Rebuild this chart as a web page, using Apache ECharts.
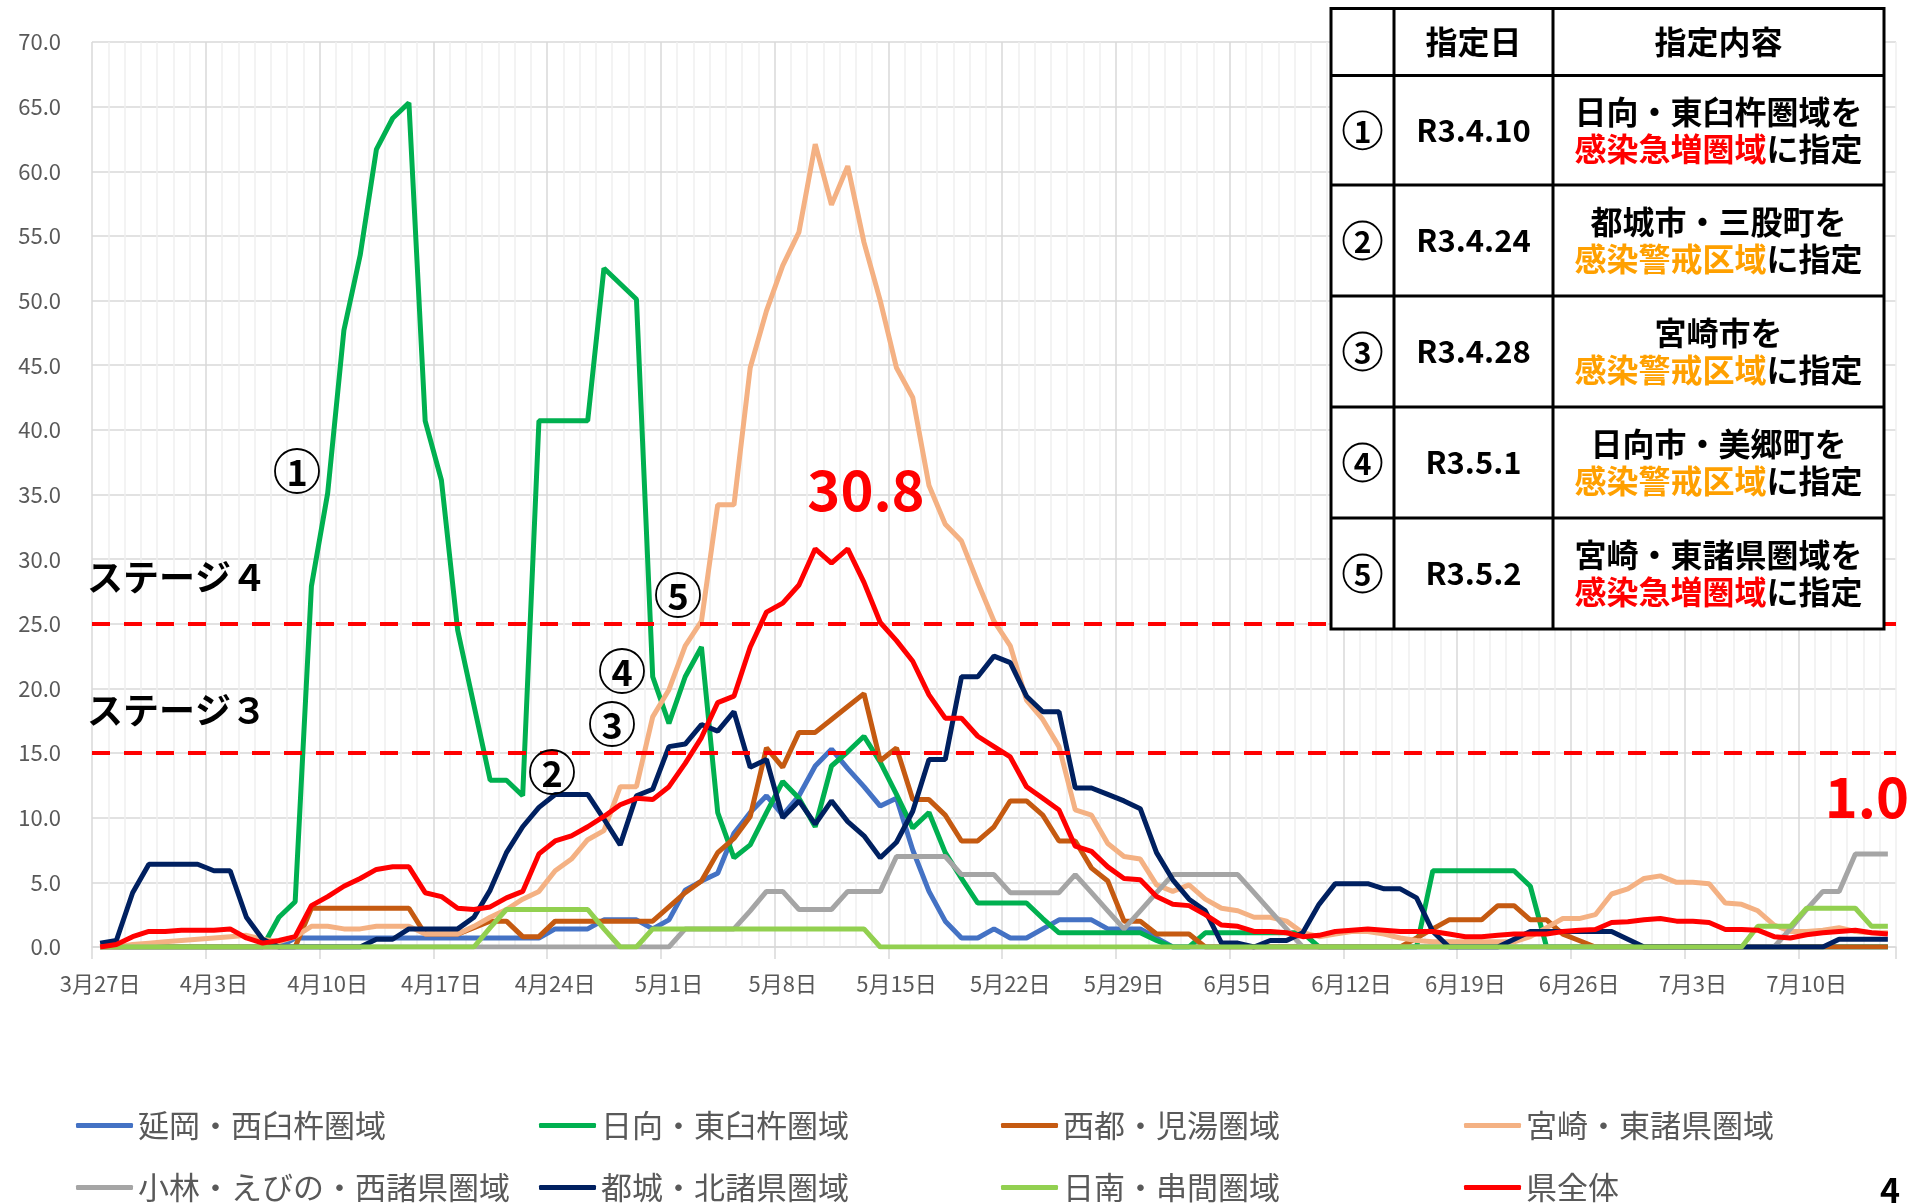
<!DOCTYPE html>
<html><head><meta charset="utf-8">
<script src="https://cdn.jsdelivr.net/npm/echarts@6/dist/echarts.min.js"></script>
<style>html,body{margin:0;padding:0;background:#fff}#c{width:1911px;height:1204px}</style>
</head><body><div id="c"></div><script>
const categories = ('3月27日,3月28日,3月29日,3月30日,3月31日,' +
 '4月1日,4月2日,4月3日,4月4日,4月5日,4月6日,4月7日,4月8日,4月9日,4月10日,4月11日,4月12日,4月13日,4月14日,4月15日,' +
 '4月16日,4月17日,4月18日,4月19日,4月20日,4月21日,4月22日,4月23日,4月24日,4月25日,4月26日,4月27日,4月28日,4月29日,4月30日,' +
 '5月1日,5月2日,5月3日,5月4日,5月5日,5月6日,5月7日,5月8日,5月9日,5月10日,5月11日,5月12日,5月13日,5月14日,5月15日,' +
 '5月16日,5月17日,5月18日,5月19日,5月20日,5月21日,5月22日,5月23日,5月24日,5月25日,5月26日,5月27日,5月28日,5月29日,5月30日,5月31日,' +
 '6月1日,6月2日,6月3日,6月4日,6月5日,6月6日,6月7日,6月8日,6月9日,6月10日,6月11日,6月12日,6月13日,6月14日,6月15日,' +
 '6月16日,6月17日,6月18日,6月19日,6月20日,6月21日,6月22日,6月23日,6月24日,6月25日,6月26日,6月27日,6月28日,6月29日,6月30日,' +
 '7月1日,7月2日,7月3日,7月4日,7月5日,7月6日,7月7日,7月8日,7月9日,7月10日,7月11日,7月12日,7月13日,7月14日,7月15日').split(',');

const seriesNames = ['延岡・西臼杵圏域','日向・東臼杵圏域','西都・児湯圏域','宮崎・東諸県圏域','小林・えびの・西諸県圏域','都城・北諸県圏域','日南・串間圏域','県全体'];
const seriesColors = ['#4472C4','#00B050','#C55A11','#F4B183','#A5A5A5','#002060','#92D050','#FF0000'];

const nobeoka = [0,0,0,0,0,0,0,0,0,0,
 0,0,0.7,0.7,0.7,0.7,0.7,0.7,0.7,0.7,
 0.7,0.7,0.7,0.7,0.7,0.7,0.7,0.7,1.4,1.4,
 1.4,2.1,2.1,2.1,1.4,2.1,4.4,5.1,5.7,8.8,
 10.4,11.7,10.2,11.7,14.0,15.3,13.8,12.4,10.9,11.5,
 7.5,4.3,2.0,0.7,0.7,1.4,0.7,0.7,1.4,2.1,
 2.1,2.1,1.4,1.4,1.4,0.7,0,0,0,0,
 0,0,0,0,0,0,0,0,0,0,
 0,0,0,0,0,0,0,0,0,0,
 0,0,0,0,0,0,0,0,0,0,
 0,0,0,0,0,0,0,0,0,0,
 0];
const hyuga = [0,0,0,0,0,0,0,0,0,0,
 0,2.3,3.5,27.9,35.1,47.7,53.5,61.7,64.1,65.3,
 40.7,36.1,24.5,18.7,12.9,12.9,11.7,40.7,40.7,40.7,
 40.7,52.5,51.3,50.1,20.9,17.3,20.9,23.2,10.4,6.9,
 7.9,10.4,12.8,11.5,9.3,14.0,15.1,16.3,14.3,11.8,
 9.2,10.4,7.3,5.3,3.4,3.4,3.4,3.4,2.2,1.1,
 1.1,1.1,1.1,1.1,1.1,0.5,0,0,1.1,1.1,
 1.1,1.1,1.1,1.1,1.1,0,0,0,0,0,
 0,0,5.9,5.9,5.9,5.9,5.9,5.9,4.7,0,
 0,0,0,0,0,0,0,0,0,0,
 0,0,0,0,0,0,0,0,0,0,
 0];
const saito = [0,0,0,0,0,0,0,0,0,0,
 0,0,0,3.0,3.0,3.0,3.0,3.0,3.0,3.0,
 1.0,1.0,1.0,1.5,2.0,2.0,0.8,0.8,2.0,2.0,
 2.0,2.0,2.0,2.0,2.0,3.1,4.2,5.1,7.3,8.4,
 10.1,15.4,13.9,16.6,16.6,17.6,18.6,19.6,14.4,15.4,
 11.4,11.4,10.2,8.2,8.2,9.3,11.3,11.3,10.2,8.2,
 8.2,6.1,5.1,2.0,2.0,1.0,1.0,1.0,0,0,
 0,0,0,0,0,0,0,0,0,0,
 0,0.7,1.4,2.1,2.1,2.1,3.2,3.2,2.1,2.1,
 1.0,0.5,0,0,0,0,0,0,0,0,
 0,0,0,0,0,0,0,0,0,0,
 0];
const miyazaki = [0,0,0.2,0.3,0.4,0.5,0.6,0.7,0.8,0.9,
 0.6,0.4,0.8,1.6,1.6,1.4,1.4,1.6,1.6,1.6,
 1.0,1.0,1.0,1.6,2.3,2.9,3.7,4.3,5.9,6.8,
 8.3,9.0,12.4,12.4,17.8,19.9,23.3,25.2,34.2,34.2,
 44.8,49.2,52.7,55.3,62.1,57.4,60.4,54.5,50.0,44.8,
 42.5,35.7,32.7,31.4,28.2,25.2,23.3,19.1,17.6,15.5,
 10.6,10.2,8.0,7.0,6.8,4.8,4.3,4.8,3.7,3.0,
 2.8,2.3,2.3,2.0,1.1,0.8,1.0,1.2,1.2,1.0,
 0.7,0.5,0.4,0.4,0.4,0.4,0.4,0.4,0.8,1.5,
 2.2,2.2,2.5,4.1,4.5,5.3,5.5,5.0,5.0,4.9,
 3.4,3.3,2.8,1.7,1.2,1.2,1.3,1.5,1.2,1.1,
 1.1];
const kobayashi = [0,0,0,0,0,0,0,0,0,0,
 0,0,0,0,0,0,0,0,0,0,
 0,0,0,0,0,0,0,0,0,0,
 0,0,0,0,0,0,1.4,1.4,1.4,1.4,
 2.8,4.3,4.3,2.9,2.9,2.9,4.3,4.3,4.3,7.0,
 7.0,7.0,7.0,5.6,5.6,5.6,4.2,4.2,4.2,4.2,
 5.6,4.2,2.8,1.4,2.8,4.2,5.6,5.6,5.6,5.6,
 5.6,4.2,2.8,1.4,0,0,0,0,0,0,
 0,0,0,0,0,0,0,0,0,0,
 0,0,0,0,0,0,0,0,0,0,
 0,0,0,0,1.4,2.9,4.3,4.3,7.2,7.2,
 7.2];
const miyakonojo = [0.3,0.5,4.2,6.4,6.4,6.4,6.4,5.9,5.9,2.3,
 0.6,0,0,0,0,0,0,0.6,0.6,1.4,
 1.4,1.4,1.4,2.3,4.4,7.3,9.3,10.8,11.8,11.8,
 11.8,9.9,7.9,11.7,12.2,15.5,15.7,17.2,16.7,18.2,
 13.9,14.5,10.0,11.3,9.5,11.3,9.7,8.6,6.9,8.1,
 10.5,14.5,14.5,20.9,20.9,22.5,22.0,19.4,18.2,18.2,
 12.3,12.3,11.8,11.3,10.7,7.3,5.2,3.7,2.8,0.3,
 0.3,0,0.5,0.5,1.1,3.3,4.9,4.9,4.9,4.5,
 4.5,3.8,1.2,0,0,0,0,0.6,1.2,1.2,
 1.2,1.2,1.2,1.2,0.6,0,0,0,0,0,
 0,0,0,0,0,0,0,0.6,0.6,0.6,
 0.6];
const nichinan = [0,0,0,0,0,0,0,0,0,0,
 0,0,0,0,0,0,0,0,0,0,
 0,0,0,0,1.5,2.9,2.9,2.9,2.9,2.9,
 2.9,1.4,0,0,1.4,1.4,1.4,1.4,1.4,1.4,
 1.4,1.4,1.4,1.4,1.4,1.4,1.4,1.4,0,0,
 0,0,0,0,0,0,0,0,0,0,
 0,0,0,0,0,0,0,0,0,0,
 0,0,0,0,0,0,0,0,0,0,
 0,0,0,0,0,0,0,0,0,0,
 0,0,0,0,0,0,0,0,0,0,
 0,0,1.6,1.6,1.6,3.0,3.0,3.0,3.0,1.6,
 1.6];
const prefecture = [0,0.2,0.8,1.2,1.2,1.3,1.3,1.3,1.4,0.7,
 0.3,0.5,0.8,3.2,3.9,4.7,5.3,6.0,6.2,6.2,
 4.2,3.9,3.0,2.9,3.1,3.8,4.3,7.2,8.2,8.6,
 9.3,10.1,11.0,11.5,11.4,12.4,14.2,16.2,18.9,19.4,
 23.2,25.9,26.6,28.0,30.8,29.7,30.8,28.2,25.1,23.7,
 22.1,19.5,17.7,17.7,16.3,15.5,14.7,12.4,11.5,10.6,
 7.8,7.4,6.2,5.3,5.2,3.9,3.3,3.2,2.5,1.7,
 1.6,1.2,1.2,1.1,0.8,0.9,1.2,1.3,1.4,1.3,
 1.2,1.2,1.2,1.0,0.8,0.8,0.9,1.0,1.0,1.0,
 1.2,1.3,1.35,1.9,1.95,2.1,2.2,2.0,2.0,1.9,
 1.35,1.35,1.3,0.8,0.7,0.95,1.1,1.2,1.3,1.1,
 1.0];
const seriesValues = [nobeoka, hyuga, saito, miyazaki, kobayashi, miyakonojo, nichinan, prefecture];
const stageLevels = [25, 15];
const stageLabels = ['ステージ４', 'ステージ３'];

const tableNums = ['1','2','3','4','5'];
const tableDates = ['R3.4.10','R3.4.24','R3.4.28','R3.5.1','R3.5.2'];
const tableLine1 = ['日向・東臼杵圏域を','都城市・三股町を','宮崎市を','日向市・美郷町を','宮崎・東諸県圏域を'];
const tableLine2 = ['感染急増圏域','感染警戒区域','感染警戒区域','感染警戒区域','感染急増圏域'];
const tableLine2Kind = ['r','o','o','o','r'];

const FONT = '"Noto Sans CJK JP","Noto Sans",sans-serif';
const chart = echarts.init(document.getElementById('c'), null, {renderer: 'canvas'});

const minorC = '#efefef', majorC = '#d9d9d9';
const series = seriesNames.map((n, i) => ({
  name: n, type: 'line', data: seriesValues[i], symbol: 'none',
  lineStyle: {width: 5, color: seriesColors[i]}, itemStyle: {color: seriesColors[i]},
  emphasis: {disabled: true}, z: 2 + i * 0.01
}));
series[7].markLine = {
  silent: true, symbol: ['none','none'], label: {show: false},
  lineStyle: {color: '#FF0000', width: 4, type: [18, 14]},
  data: stageLevels.map(v => ({yAxis: v}))
};

const legendX = [76, 539, 1001, 1464];
const legends = seriesNames.map((n, i) => ({
  data: [n], left: legendX[i % 4], top: i < 4 ? 1110 : 1172, padding: 0,
  icon: 'roundRect', itemWidth: 57, itemHeight: 5, selectedMode: false,
  textStyle: {fontSize: 31, color: '#595959', fontFamily: FONT, fontWeight: 'normal'}
}));

// table graphics
const tx = [1331, 1394, 1553, 1884];
const ty = [8.5, 75.6, 185, 296, 407, 518, 629];
const g = [];
g.push({type: 'rect', z: 100, shape: {x: tx[0], y: ty[0], width: tx[3]-tx[0], height: ty[6]-ty[0]}, style: {fill: '#fff', stroke: '#000', lineWidth: 3}});
[tx[1], tx[2]].forEach(x => g.push({type: 'line', z: 101, shape: {x1: x, y1: ty[0], x2: x, y2: ty[6]}, style: {stroke: '#000', lineWidth: 3}}));
ty.slice(1, 6).forEach(y => g.push({type: 'line', z: 101, shape: {x1: tx[0], y1: y, x2: tx[3], y2: y}, style: {stroke: '#000', lineWidth: 3}}));
const txt = (t, x, y, size, weight, fill, z) => ({type: 'text', z: z || 102, style: {text: t, x: x, y: y, align: 'center', verticalAlign: 'middle', font: `${weight} ${size}px ${FONT}`, fill: fill || '#000'}});
const circled = (t, x, y, r, size, z) => [
  {type: 'circle', z: z, shape: {cx: x, cy: y, r: r}, style: {fill: 'rgba(255,255,255,0)', stroke: '#000', lineWidth: 1.8}},
  txt(t, x, y + 1, size, 'bold', '#000', z + 1)
];
g.push(txt('指定日', (tx[1]+tx[2])/2, (ty[0]+ty[1])/2, 32, 'bold'));
g.push(txt('指定内容', (tx[2]+tx[3])/2, (ty[0]+ty[1])/2, 32, 'bold'));
for (let i = 0; i < 5; i++) {
  const mid = (ty[i+1] + ty[i+2]) / 2;
  circled(tableNums[i], (tx[0]+tx[1])/2, mid, 19, 30, 102).forEach(e => g.push(e));
  g.push(txt(tableDates[i], (tx[1]+tx[2])/2, mid, 31, 'bold'));
  g.push(txt(tableLine1[i], (tx[2]+tx[3])/2, mid - 18.5, 32, 'bold'));
  g.push({type: 'text', z: 102, style: {
    text: `{${tableLine2Kind[i]}|${tableLine2[i]}}{k|に指定}`,
    x: (tx[2]+tx[3])/2, y: mid + 18.5, align: 'center', verticalAlign: 'middle',
    font: `bold 32px ${FONT}`,
    rich: {
      r: {fill: '#FF0000', font: `bold 32px ${FONT}`},
      o: {fill: '#FFA000', font: `bold 32px ${FONT}`},
      k: {fill: '#000', font: `bold 32px ${FONT}`}
    }}});
}
// annotations
const circ = [['1', 297, 471], ['2', 552, 772], ['3', 612, 724], ['4', 622, 671], ['5', 678, 595]];
circ.forEach(c => circled(c[0], c[1], c[2], 22, 36, 90).forEach(e => g.push(e)));
g.push({type: 'text', z: 90, style: {text: stageLabels[0], x: 87, y: 577, align: 'left', verticalAlign: 'middle', font: `bold 36px ${FONT}`, fill: '#000'}});
g.push({type: 'text', z: 90, style: {text: stageLabels[1], x: 87, y: 710, align: 'left', verticalAlign: 'middle', font: `bold 36px ${FONT}`, fill: '#000'}});
g.push({type: 'text', z: 90, style: {text: Math.max(...prefecture).toFixed(1), x: 866, y: 490, align: 'center', verticalAlign: 'middle', font: `bold 56px ${FONT}`, fill: '#FF0000'}});
g.push({type: 'text', z: 90, style: {text: prefecture[prefecture.length-1].toFixed(1), x: 1909, y: 797, align: 'right', verticalAlign: 'middle', font: `bold 56px ${FONT}`, fill: '#FF0000'}});
g.push({type: 'text', z: 90, style: {text: '4', x: 1890, y: 1190, align: 'center', verticalAlign: 'middle', font: `bold 34px ${FONT}`, fill: '#000'}});

const splitColors = [majorC, minorC, minorC, minorC, minorC, minorC, minorC];

chart.setOption({
  animation: false,
  backgroundColor: '#fff',
  textStyle: {fontFamily: FONT},
  grid: {left: 92, right: 15, top: 42, bottom: 257, containLabel: false},
  legend: legends,
  xAxis: {
    type: 'category', data: categories, boundaryGap: true,
    axisLine: {lineStyle: {color: '#d9d9d9', width: 1.5}},
    axisTick: {show: true, interval: 6, length: 12, lineStyle: {color: '#d9d9d9', width: 1.5}},
    axisLabel: {interval: 6, margin: 26, fontSize: 22, color: '#595959', fontFamily: FONT},
    splitLine: {show: true, interval: 0, lineStyle: {color: splitColors, width: 1.5}}
  },
  yAxis: {
    type: 'value', min: 0, max: 70, interval: 5,
    axisLine: {show: false}, axisTick: {show: false},
    axisLabel: {formatter: v => v.toFixed(1), fontSize: 22, color: '#595959', margin: 31, fontFamily: FONT},
    splitLine: {lineStyle: {color: '#d9d9d9', width: 1.5}}
  },
  series: series,
  graphic: g
});
</script></body></html>
